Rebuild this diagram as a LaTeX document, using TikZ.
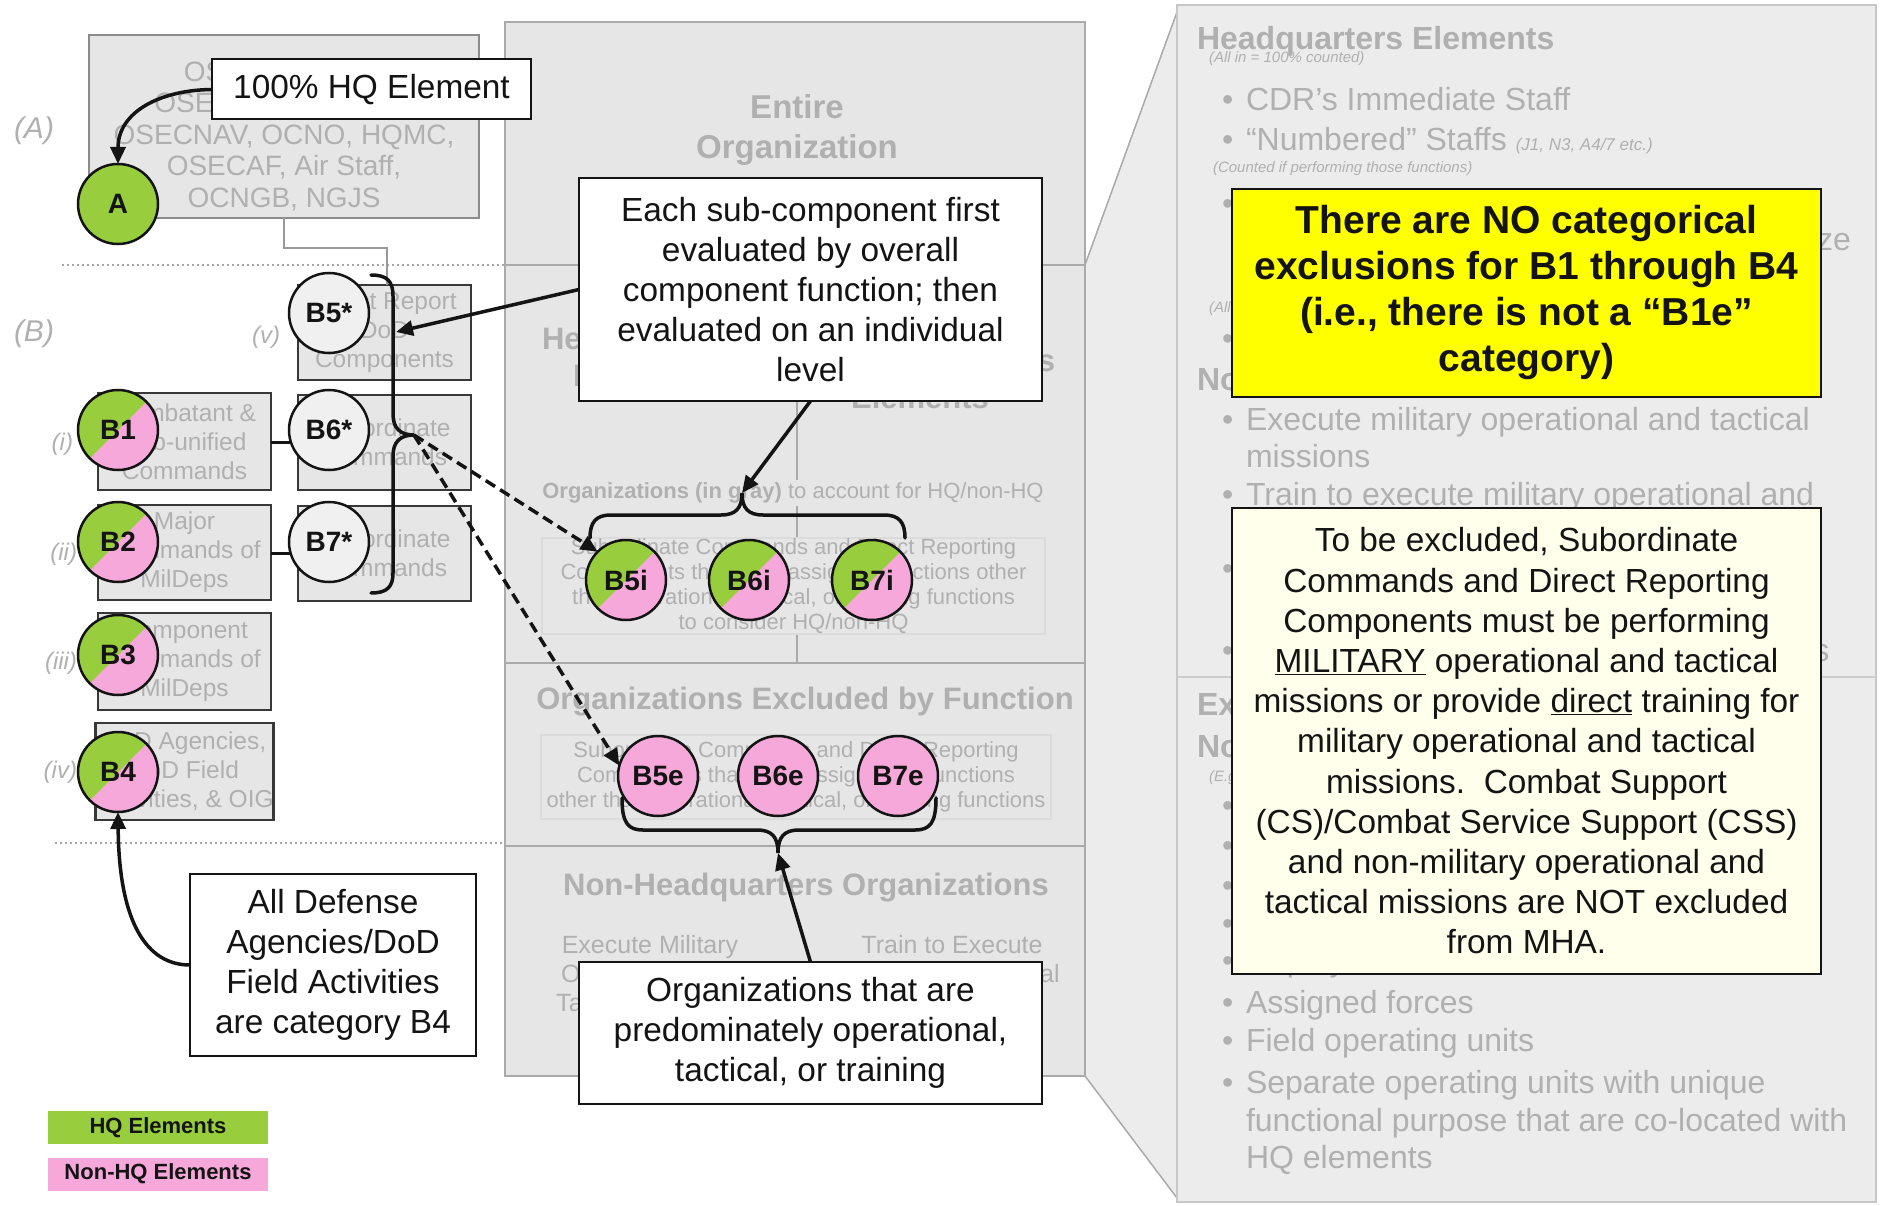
\documentclass[tikz,border=0pt]{standalone}
\usepackage{fontspec}
\setmainfont{Liberation Sans}
\usetikzlibrary{arrows.meta,calc}
\definecolor{hqgreen}{RGB}{152,206,62}
\definecolor{nhpink}{RGB}{247,168,218}
\definecolor{panelbg}{RGB}{230,230,230}
\definecolor{rpanelbg}{RGB}{236,236,236}
\definecolor{panelln}{RGB}{170,170,170}
\definecolor{ghost}{RGB}{176,176,176}
\definecolor{cream}{RGB}{255,255,236}
\definecolor{ink}{RGB}{20,20,20}
\definecolor{yel}{RGB}{255,255,0}
\newcommand\setfs[2]{\fontsize{#1}{#2}\selectfont}
\begin{document}
\begin{tikzpicture}[x=1pt,y=-1pt,
 every node/.style={inner sep=0pt,outer sep=0pt},
 callout/.style={draw=ink,line width=2pt,fill=white,align=center,text=ink,font=\setfs{33.4}{40.2}},
 gbox/.style={draw=black!78,line width=2.5pt,fill=panelbg,align=center,text=ghost,font=\setfs{24.5}{29}},
 glabel/.style={text=ghost,font=\itshape\setfs{24}{28}},
 circ/.style={circle,draw=ink,line width=2.5pt,minimum size=80pt,font=\bfseries\setfs{28}{32},text=ink},
 greenc/.style={circ,fill=hqgreen},
 pinkc/.style={circ,fill=nhpink},
 grayc/.style={circ,fill=black!6},
 splitc/.style={circ,path picture={
   \fill[nhpink] (path picture bounding box.south west) rectangle (path picture bounding box.north east);
   \fill[hqgreen] (path picture bounding box.south west) -- (path picture bounding box.north west) -- (path picture bounding box.north east) -- cycle;}},
 arr/.style={draw=ink,line width=3.5pt,-{Triangle[length=17pt,width=15pt]}},
 darr/.style={arr,dash pattern=on 11pt off 6pt},
 brace/.style={draw=ink,line width=3.5pt,line cap=round},
 mhead/.style={text=ghost,font=\bfseries\setfs{31}{37},align=center},
 msmall/.style={text=ghost,font=\setfs{22}{25.2},align=center},
 rtext/.style={anchor=base west,text=ghost,font=\setfs{32}{38}},
 rhead/.style={anchor=base west,text=ghost,font=\bfseries\setfs{32}{38}},
 rsmall/.style={anchor=base west,text=ghost,font=\itshape\setfs{15}{18}},
 dotline/.style={draw=black!35,line width=1.5pt,dash pattern=on 2pt off 3pt},
 legend/.style={minimum width=220,minimum height=33,font=\bfseries\setfs{22}{26},text=ink}
]
\newcommand\rbul[3]{\node[rtext] (#1b) at (1222,#2) {•}; \node[rtext] (#1) at (1246,#2) {#3};}
\useasboundingbox (0,0) rectangle (1886,1206);
\fill[white] (0,0) rectangle (1886,1206);

% ---------- right panel (zoomed view) ----------
\fill[rpanelbg] (1085,265) -- (1177,12) -- (1177,1198) -- (1085,1076) -- cycle;
\draw[panelln,line width=1.5pt] (1085,265) -- (1177,12);
\draw[panelln,line width=1.5pt] (1085,1076) -- (1177,1198);
\node[draw=black!22,line width=2pt,fill=rpanelbg,minimum width=699,minimum height=1197] (rpanel) at (1526.5,603.5) {};
\draw[black!20,line width=2.5pt] (rpanel.west |- 0,677) -- (rpanel.east |- 0,677);

\node[rhead] (rh1) at (1197,50) {Headquarters Elements};
\node[rsmall] (rs1) at (1209,63) {(All in = 100\% counted)};
\rbul{r1}{111}{CDR’s Immediate Staff}
\rbul{r2}{151}{“Numbered” Staffs {\itshape\setfs{17}{20}(J1, N3, A4/7 etc.)}}
\node[rsmall] (rs2) at (1213,173) {(Counted if performing those functions)};
\rbul{r3}{215}{Management functions}
\node[rtext,anchor=base east] (r4) at (1851,251) {organization, regardless of its size};
\node[rsmall] (rs3) at (1209,312) {(All in = 100\% counted)};
\rbul{r5}{349}{Support staff}
\node[rhead] (rh2) at (1197,390) {Non-Headquarters Elements};
\rbul{r6}{430}{Execute military operational and tactical}
\node[rtext] (r7) at (1246,467) {missions};
\rbul{r8}{505}{Train to execute military operational and}
\node[rtext] (r9) at (1246,543) {tactical missions};
\rbul{r10}{579}{Direct training}
\rbul{r11}{661}{Support operational and tactical missions}
\node[rhead] (rh3) at (1197,715) {Examples of};
\node[rhead] (rh4) at (1197,757) {Non-Headquarters Elements};
\node[rsmall] (rs4) at (1209,781) {(E.g., not all-inclusive)};
\rbul{r12}{816}{Operating forces}
\rbul{r13}{856}{Training units}
\rbul{r14}{896}{Combat units}
\rbul{r15}{934}{Support units}
\rbul{r16}{971}{Deployable units}
\rbul{r17}{1013}{Assigned forces}
\rbul{r18}{1051}{Field operating units}
\rbul{r19}{1093}{Separate operating units with unique}
\node[rtext] (r20) at (1246,1131) {functional purpose that are co-located with};
\node[rtext] (r21) at (1246,1168) {HQ elements};

% ---------- middle panel ----------
\node[draw=panelln,line width=2.5pt,fill=panelbg,minimum width=580,minimum height=1054] (mpanel) at (795,549) {};
\draw[panelln,line width=2.5pt] (mpanel.west |- 0,265) -- (mpanel.east |- 0,265);
\draw[panelln,line width=2.5pt] (mpanel.west |- 0,663) -- (mpanel.east |- 0,663);
\draw[panelln,line width=2.5pt] (mpanel.west |- 0,846) -- (mpanel.east |- 0,846);
\draw[panelln,line width=2pt] (797,402) -- (797,663);
\node[mhead,font=\bfseries\setfs{33}{40}] (entire) at (797,130) {Entire\\Organization};
\node[mhead] (hqh) at (642,357) {Headquarters\\Elements};
\node[mhead] (nhh) at (920,379) {Non-Headquarters\\Elements};
\node[msmall,fill=panelbg,inner sep=3pt] (ingray) at (793,493) {\textbf{Organizations (in gray)} to account for HQ/non-HQ};
\node[msmall,draw=black!14,line width=1.5pt,fill=panelbg,minimum width=503,minimum height=96] (sub1) at (793.5,586) {Subordinate Commands and Direct Reporting\\Components that have assigned functions other\\than operational, tactical, or training functions\\to consider HQ/non-HQ};
\node[mhead] (exh) at (805,702) {Organizations Excluded by Function};
\node[msmall,draw=black!14,line width=1.5pt,fill=panelbg,minimum width=510,minimum height=84] (sub2) at (796,777) {Subordinate Commands and Direct Reporting\\Components that have assigned all functions\\other than operational, tactical, or training functions};
\node[mhead] (nhorg) at (806,888) {Non-Headquarters Organizations};
\node[text=ghost,font=\setfs{25}{29},align=center] (exm) at (650,974) {Execute Military\\Operational and\\Tactical Missions};
\node[text=ghost,font=\setfs{25}{29},align=center] (trn) at (952,974) {Train to Execute\\Military Operational\\and Tactical};

% ---------- left column ----------
\draw[dotline] (62,265) -- (mpanel.west |- 0,265);
\draw[dotline] (55,843) -- (mpanel.west |- 0,843);

\node[draw=black!45,line width=2pt,fill=panelbg,minimum width=390,minimum height=183] (boxA) at (284,126.5) {};
\node[text=ghost,align=center,font=\setfs{28}{31.5}] (boxAtxt) at (284,136) {OSD, Joint Staff\\OSECARMY, OCSA,\\OSECNAV, OCNO, HQMC,\\OSECAF, Air Staff,\\OCNGB, NGJS};
\node[glabel,font=\itshape\setfs{30}{34}] (labA) at (34,131) {(A)};
\node[glabel,font=\itshape\setfs{30}{34}] (labB) at (34,334) {(B)};
\node[glabel] (labv) at (266,337) {(v)};
\node[glabel,anchor=east] (labi) at (73,444) {(i)};
\node[glabel,anchor=east] (labii) at (77,554) {(ii)};
\node[glabel,anchor=east] (labiii) at (77,663) {(iii)};
\node[glabel,anchor=east] (labiv) at (77,772) {(iv)};

\node[gbox,minimum width=173,minimum height=95] (boxv) at (384.5,332.5) {Direct Report\\DoD\\Components};
\node[gbox,minimum width=173,minimum height=97] (boxi) at (184.5,441.5) {Combatant \&\\Sub-unified\\Commands};
\node[gbox,minimum width=173,minimum height=95] (boxB6) at (384.5,442.5) {Subordinate\\Commands};
\node[gbox,minimum width=173,minimum height=95] (boxii) at (184.5,552.5) {Major\\Commands of\\MilDeps};
\node[gbox,minimum width=173,minimum height=95] (boxB7) at (384.5,553.5) {Subordinate\\Commands};
\node[gbox,minimum width=173,minimum height=97] (boxiii) at (184.5,661.5) {Component\\Commands of\\MilDeps};
\node[gbox,minimum width=173,minimum height=97] (boxiv) at (184.5,771.5) {DoD Agencies,\\DoD Field\\Activities, \& OIG};

\draw[black!40,line width=2pt] (boxA.south) |- (387,248) -- (boxv.north -| 387,0);
\draw[ink,line width=3pt] (boxi.east |- 0,442) -- (boxB6.west |- 0,442);
\draw[ink,line width=3pt] (boxii.east |- 0,553) -- (boxB7.west |- 0,553);

% ---------- circles ----------
\node[greenc] (A) at (118,204) {A};
\node[grayc] (B5s) at (329,313) {B5*};
\node[grayc] (B6s) at (329,430) {B6*};
\node[grayc] (B7s) at (329,542) {B7*};
\node[splitc] (B1) at (118,430) {B1};
\node[splitc] (B2) at (118,542) {B2};
\node[splitc] (B3) at (118,655) {B3};
\node[splitc] (B4) at (118,772) {B4};
\node[splitc] (B5i) at (626,580) {B5i};
\node[splitc] (B6i) at (749,580) {B6i};
\node[splitc] (B7i) at (872,580) {B7i};
\node[pinkc] (B5e) at (658,776) {B5e};
\node[pinkc] (B6e) at (778,776) {B6e};
\node[pinkc] (B7e) at (898,776) {B7e};

% ---------- braces ----------
\coordinate (bvtip) at (414,435);
\coordinate (bvhit) at (396,332);
\draw[brace] (371,275) .. controls (387,275) and (393,281) .. (393,296) -- (393,414) .. controls (393,428) and (400,435) .. (bvtip) .. controls (400,435) and (393,442) .. (393,456) -- (393,573) .. controls (393,587) and (387,593) .. (371,593);
\coordinate (bt1) at (742,493);
\draw[brace] (590,538) .. controls (590,522) and (596,515) .. (611,515) -- (721,515) .. controls (736,515) and (742,508) .. (bt1) .. controls (742,508) and (748,515) .. (763,515) -- (884,515) .. controls (899,515) and (905,522) .. (905,538);
\coordinate (bt2) at (778,853);
\draw[brace] (622,798) .. controls (622,823) and (628,830) .. (643,830) -- (757,830) .. controls (772,830) and (778,837) .. (bt2) .. controls (778,837) and (784,830) .. (799,830) -- (915,830) .. controls (930,830) and (936,823) .. (936,798);

% ---------- callouts ----------
\node[callout,minimum width=319,minimum height=60] (hq100) at (371.5,89.5) {100\% HQ Element};
\node[callout,minimum width=463,minimum height=223] (each) at (810.5,289.5) {Each sub-component first\\evaluated by overall\\component function; then\\evaluated on an individual\\level};
\node[callout,minimum width=286,minimum height=182] (alldef) at (333,965) {All Defense\\Agencies/DoD\\Field Activities\\are category B4};
\node[callout,minimum width=463,minimum height=142] (orgs) at (810.5,1033) {Organizations that are\\predominately operational,\\tactical, or training};
\node[draw=ink,line width=2pt,fill=yel,align=center,text=ink,font=\bfseries\setfs{39}{46},minimum width=589,minimum height=208] (nocat) at (1526.5,293) {There are NO categorical\\exclusions for B1 through B4\\(i.e., there is not a “B1e”\\category)};
\node[callout,fill=cream,minimum width=589,minimum height=466] (excl) at (1526.5,741) {To be excluded, Subordinate\\Commands and Direct Reporting\\Components must be performing\\\underline{MILITARY} operational and tactical\\missions or provide \underline{direct} training for\\military operational and tactical\\missions.\ \ Combat Support\\(CS)/Combat Service Support (CSS)\\and non-military operational and\\tactical missions are NOT excluded\\from MHA.};

% ---------- arrows ----------
\draw[arr] (hq100.west) .. controls (160,90) and (118,112) .. (A.north);
\draw[arr] (alldef.west) .. controls (148,965) and (119,925) .. (B4.south);
\draw[arr] (each.west) -- (bvhit);
\draw[arr] (each.south) -- (bt1);
\draw[arr] (orgs.north) -- (bt2);
\draw[darr] (bvtip) -- (B5i.135);
\draw[darr] (bvtip) -- (B5e.165);

% ---------- legend ----------
\node[legend,fill=hqgreen] (lg1) at (158,1127.5) {HQ Elements};
\node[legend,fill=nhpink] (lg2) at (158,1174) {Non-HQ Elements};
\end{tikzpicture}
\end{document}
